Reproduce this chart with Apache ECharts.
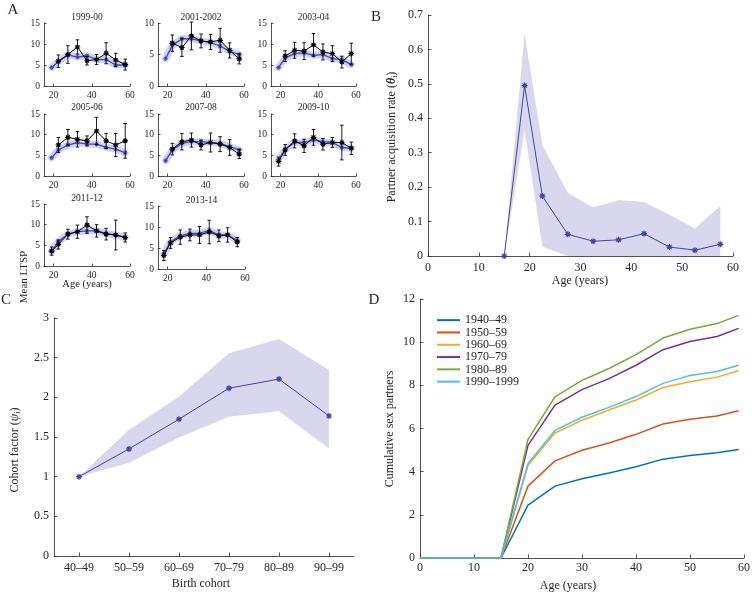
<!DOCTYPE html>
<html><head><meta charset="utf-8">
<script src="https://cdn.jsdelivr.net/npm/echarts@6/dist/echarts.min.js"></script>
<style>html,body{margin:0;padding:0;background:#fff}#c{width:753px;height:594px}</style>
</head><body><div id="c"></div><script>
const FONT = '"Liberation Serif", "Times New Roman", serif';
const INK = '#262626';

// ---------- Panel A data ----------
const ageA = [19, 22.5, 27.5, 32.5, 37.5, 42.5, 47.5, 52.5, 57.5];
const ageA2013 = [18, 21.5, 26.5, 31.5, 36.5, 41.5, 46.5, 51, 56];
const titlesA = ['1999-00', '2001-2002', '2003-04', '2005-06', '2007-08', '2009-10', '2011-12', '2013-14'];
const yMaxA = [15, 10, 15, 15, 15, 15, 15, 15];
const yTicksA = [0, 5, 10, 15];
const xTicksA = [20, 40, 60];

const model1999 = [4.4, 5.8, 7.4, 6.9, 7.2, 6.3, 6.3, 5.0, 5.0];
const obs1999   = [null, 5.9, 7.5, 9.3, 6.0, 6.3, 7.8, 6.2, 5.1];
const err1999   = [null, 1.5, 2.1, 1.7, 1.0, 1.2, 2.5, 1.6, 1.3];

const model2001 = [4.35, 6.45, 7.5, 7.5, 7.15, 6.9, 6.35, 5.5, 5.0];
const obs2001   = [null, 6.8, 6.1, 7.95, 7.15, 7.0, 7.25, 5.65, 4.3];
const err2001   = [null, 1.3, 1.4, 2.2, 1.1, 1.2, 1.9, 1.2, 0.8];

const model2003 = [4.4, 6.7, 7.7, 7.9, 7.3, 7.5, 6.5, 6.3, 5.1];
const obs2003   = [null, 7.1, 8.5, 8.3, 9.8, 8.1, 7.7, 5.7, 7.7];
const err2003   = [null, 1.3, 1.9, 2.0, 2.7, 1.9, 1.9, 1.4, 2.5];

const model2005 = [4.4, 6.3, 7.5, 8.1, 7.7, 7.7, 6.9, 6.5, 5.6];
const obs2005   = [null, 7.5, 9.35, 8.9, 8.5, 10.9, 8.5, 7.5, 8.5];
const err2005   = [null, 1.8, 1.9, 1.9, 1.2, 3.3, 1.8, 2.8, 4.2];

const model2007 = [3.7, 6.3, 7.9, 8.3, 8.3, 8.1, 7.9, 7.1, 6.3];
const obs2007   = [null, 6.5, 8.3, 8.7, 7.5, 8.1, 7.7, 6.9, 5.3];
const err2007   = [null, 1.4, 2.0, 1.7, 1.2, 2.3, 1.8, 1.9, 1.1];

const model2009 = [3.9, 6.5, 8.1, 8.1, 8.7, 8.3, 8.1, 6.9, 6.7];
const obs2009   = [3.5, 6.3, 8.5, 7.3, 9.35, 7.7, 8.1, 8.1, 6.7];
const err2009   = [1.1, 1.3, 1.7, 1.6, 1.9, 1.4, 1.2, 4.2, 1.5];

const model2011 = [3.6, 5.9, 7.7, 8.3, 8.5, 8.5, 7.9, 7.5, 6.9];
const obs2011   = [3.6, 5.2, 7.7, 8.3, 9.9, 8.5, 7.7, 7.5, 6.9];
const err2011   = [1.0, 1.1, 1.2, 1.6, 2.0, 1.5, 1.4, 3.6, 1.1];

const model2013 = [3.6, 6.5, 7.9, 8.5, 8.5, 9.2, 8.1, 8.1, 6.8];
const obs2013   = [3.2, 6.2, 7.6, 8.1, 8.1, 8.8, 7.9, 8.1, 6.4];
const err2013   = [1.2, 1.3, 1.7, 1.4, 2.0, 2.8, 1.4, 1.7, 1.1];

// ---------- Panel B data ----------
const ageB   = [15, 19, 22.5, 27.5, 32.5, 37.5, 42.5, 47.5, 52.5, 57.5];
const rateB  = [0, 0.495, 0.174, 0.063, 0.043, 0.047, 0.065, 0.026, 0.017, 0.034];
const upperB = [0, 0.645, 0.322, 0.184, 0.141, 0.163, 0.157, 0.120, 0.080, 0.145];
const lowerB = [0, 0.366, 0.027, 0, 0, 0, 0, 0, 0, 0];

// ---------- Panel C data ----------
const cohortsC = ['40–49', '50–59', '60–69', '70–79', '80–89', '90–99'];
const factorC  = [1, 1.35, 1.725, 2.115, 2.23, 1.765];
const upperC   = [1, 1.59, 2.01, 2.555, 2.735, 2.345];
const lowerC   = [1, 1.175, 1.495, 1.755, 1.825, 1.355];

// ---------- Panel D data ----------
const ageD = [0, 15, 20, 25, 30, 35, 40, 45, 50, 55, 59];
const namesD = ['1940–49', '1950–59', '1960–69', '1970–79', '1980–89', '1990–1999'];
const d1940 = [0, 0, 2.45, 3.33, 3.67, 3.94, 4.23, 4.58, 4.75, 4.88, 5.03];
const d1950 = [0, 0, 3.33, 4.50, 4.99, 5.33, 5.73, 6.21, 6.43, 6.58, 6.82];
const d1960 = [0, 0, 4.28, 5.79, 6.38, 6.86, 7.32, 7.90, 8.17, 8.38, 8.68];
const d1970 = [0, 0, 5.22, 7.08, 7.80, 8.31, 8.93, 9.65, 10.03, 10.26, 10.64];
const d1980 = [0, 0, 5.50, 7.47, 8.23, 8.78, 9.42, 10.19, 10.60, 10.86, 11.24];
const d1990 = [0, 0, 4.38, 5.91, 6.52, 6.98, 7.48, 8.09, 8.46, 8.64, 8.93];
const colorsD = ['#0072BD', '#D95319', '#EDB120', '#7E2F8E', '#77AC30', '#4DBEEE'];

// ---------- build ----------
const AST = 'path://M-1,-5L1,-5L1,5L-1,5Z M-5,-1L5,-1L5,1L-5,1Z M-2.8,-4.2L4.2,2.8L2.8,4.2L-4.2,-2.8Z M4.2,-2.8L-2.8,4.2L-4.2,2.8L2.8,-4.2Z';
const modelsA = [model1999, model2001, model2003, model2005, model2007, model2009, model2011, model2013];
const obsA = [obs1999, obs2001, obs2003, obs2005, obs2007, obs2009, obs2011, obs2013];
const errA = [err1999, err2001, err2003, err2005, err2007, err2009, err2011, err2013];
const agesA = [ageA, ageA, ageA, ageA, ageA, ageA, ageA, ageA2013];
const gridA = [
  {left: 44, top: 23, width: 86, height: 63},
  {left: 158, top: 23, width: 86, height: 63},
  {left: 271, top: 23, width: 85, height: 63},
  {left: 44, top: 114, width: 86, height: 62},
  {left: 158, top: 114, width: 86, height: 62},
  {left: 271, top: 114, width: 85, height: 62},
  {left: 44, top: 204, width: 86, height: 62},
  {left: 158, top: 206, width: 87, height: 63}
];
const titleY = [17, 17, 17, 107, 107, 107, 198, 200];

function ax(type, gi, fs, margin, tickLen, extra) {
  const o = {
    type: type, gridIndex: gi,
    axisLine: {show: true, onZero: false, lineStyle: {color: INK, width: 0.8}},
    axisTick: {show: true, inside: true, length: tickLen, lineStyle: {color: INK, width: 0.8}},
    axisLabel: {color: INK, fontFamily: FONT, fontSize: fs, margin: margin},
    splitLine: {show: false}
  };
  for (const k in extra) {
    if (typeof extra[k] === 'object' && !Array.isArray(extra[k]) && o[k]) Object.assign(o[k], extra[k]);
    else o[k] = extra[k];
  }
  return o;
}

const grids = [], xAxes = [], yAxes = [], series = [], graphics = [];

function errSeries(gi, xs, ys, es) {
  const data = [];
  xs.forEach((x, i) => { if (ys[i] != null) data.push([x, ys[i], es[i]]); });
  return {
    type: 'custom', xAxisIndex: gi, yAxisIndex: gi, z: 4, silent: true,
    encode: {x: 0, y: 1}, data: data,
    renderItem: (p, api) => {
      const x = api.value(0), y = api.value(1), e = api.value(2);
      const a = api.coord([x, y - e]), b = api.coord([x, y + e]);
      const w = 1.8, st = {stroke: '#000', lineWidth: 0.9};
      return {type: 'group', children: [
        {type: 'line', shape: {x1: a[0], y1: a[1], x2: b[0], y2: b[1]}, style: st},
        {type: 'line', shape: {x1: a[0] - w, y1: a[1], x2: a[0] + w, y2: a[1]}, style: st},
        {type: 'line', shape: {x1: b[0] - w, y1: b[1], x2: b[0] + w, y2: b[1]}, style: st}
      ]};
    }
  };
}

function bandSeries(gi, xs, lo, hi, color) {
  return {
    type: 'custom', xAxisIndex: gi, yAxisIndex: gi, z: 1, silent: true,
    encode: {x: 0, y: 1}, data: [[xs[0], lo[0]]],
    renderItem: (p, api) => {
      const pts = [];
      for (let i = 0; i < xs.length; i++) pts.push(api.coord([xs[i], hi[i]]));
      for (let i = xs.length - 1; i >= 0; i--) pts.push(api.coord([xs[i], lo[i]]));
      return {type: 'polygon', shape: {points: pts}, style: {fill: color}};
    }
  };
}

function txt(t, x, y, fs, rot, rich) {
  const g = {type: 'text', x: x, y: y, z: 100,
    style: {text: t, fontFamily: FONT, fontSize: fs, fill: INK, align: 'center', verticalAlign: 'middle'}};
  if (rot) g.rotation = rot;
  if (rich) g.style.rich = rich;
  graphics.push(g);
}

for (let i = 0; i < 8; i++) {
  grids.push(gridA[i]);
  xAxes.push(ax('value', i, 9.5, 4, 2.5, {min: 15, max: 60,
    axisLabel: {customValues: xTicksA}, axisTick: {customValues: xTicksA}}));
  yAxes.push(ax('value', i, 9.5, 4, 2.5, {min: 0, max: yMaxA[i], interval: 5}));
  const mdata = agesA[i].map((x, j) => [x, modelsA[i][j]]);
  const odata = [];
  agesA[i].forEach((x, j) => { if (obsA[i][j] != null) odata.push([x, obsA[i][j]]); });
  series.push({type: 'line', xAxisIndex: i, yAxisIndex: i, data: mdata, symbol: 'none', z: 1, silent: true,
    lineStyle: {color: 'rgba(95,105,215,0.30)', width: 7, cap: 'round', join: 'round'}});
  series.push({type: 'line', xAxisIndex: i, yAxisIndex: i, data: mdata, symbol: AST, symbolSize: 4.5, z: 2,
    lineStyle: {color: '#3f48b3', width: 1.3}, itemStyle: {color: '#3f48b3'}});
  series.push({type: 'line', xAxisIndex: i, yAxisIndex: i, data: odata, symbol: AST, symbolSize: 5.5, z: 5,
    lineStyle: {color: '#000', width: 1}, itemStyle: {color: '#000'}});
  series.push(errSeries(i, agesA[i], obsA[i], errA[i]));
  txt(titlesA[i], gridA[i].left + gridA[i].width / 2, titleY[i], 9.5);
}
txt('Mean LTSP', 24, 277, 11, Math.PI / 2);
txt('Age (years)', 87, 284, 10.5);

// Panel B (grid 8)
grids.push({left: 428, top: 15, width: 305, height: 241});
xAxes.push(ax('value', 8, 12, 6, 3.5, {min: 0, max: 60, interval: 10}));
yAxes.push(ax('value', 8, 12, 5, 3.5, {min: 0, max: 0.7, interval: 0.1}));
series.push(bandSeries(8, ageB, lowerB, upperB, '#d9d7ee'));
series.push({type: 'line', xAxisIndex: 8, yAxisIndex: 8, z: 3, data: ageB.map((x, j) => [x, rateB[j]]),
  symbol: AST, symbolSize: 6, lineStyle: {color: '#3f45a3', width: 1}, itemStyle: {color: '#3f45a3'}});
txt('Age (years)', 580, 281, 12);
txt('Partner acquisition rate ({it|θ}{sub|i})', 392, 137, 12, Math.PI / 2,
  {it: {fontStyle: 'italic', fontWeight: 'bold', fontFamily: FONT, fontSize: 12, fill: INK},
   sub: {fontFamily: FONT, fontSize: 8, fill: INK, verticalAlign: 'bottom', padding: [6, 0, 0, 0]}});

// Panel C (grid 9)
grids.push({left: 54, top: 318, width: 300, height: 238});
xAxes.push(ax('category', 9, 12, 6, 3.5, {data: cohortsC, boundaryGap: true,
  axisTick: {alignWithLabel: true}}));
yAxes.push(ax('value', 9, 12, 5, 3.5, {min: 0, max: 3, interval: 0.5}));
const idxC = cohortsC.map((c, j) => j);
series.push(bandSeries(9, idxC, lowerC, upperC, '#d9d7ee'));
series.push({type: 'line', xAxisIndex: 9, yAxisIndex: 9, z: 3, data: factorC,
  symbol: AST, symbolSize: 6, lineStyle: {color: '#3f45a3', width: 1}, itemStyle: {color: '#3f45a3'}});
txt('Birth cohort', 201, 584, 12);
txt('Cohort factor ({it|ψ}{sub|i})', 15, 450, 12, Math.PI / 2,
  {it: {fontStyle: 'italic', fontFamily: FONT, fontSize: 12, fill: INK},
   sub: {fontFamily: FONT, fontSize: 8, fill: INK, verticalAlign: 'bottom', padding: [6, 0, 0, 0]}});

// Panel D (grid 10)
grids.push({left: 420, top: 299, width: 327, height: 259});
xAxes.push(ax('value', 10, 12, 4, 3.5, {min: 0, max: 60, interval: 10}));
yAxes.push(ax('value', 10, 12, 5, 3.5, {min: 0, max: 12, interval: 2}));
const seriesD = [d1940, d1950, d1960, d1970, d1980, d1990];
seriesD.forEach((vals, k) => {
  series.push({type: 'line', name: namesD[k], xAxisIndex: 10, yAxisIndex: 10, z: 3,
    data: ageD.map((x, j) => [x, vals[j]]), symbol: 'none',
    lineStyle: {color: colorsD[k], width: 1.5}, itemStyle: {color: colorsD[k]}});
});
txt('Age (years)', 568, 586, 12);
txt('Cumulative sex partners', 390, 429, 12, Math.PI / 2);

// Panel letters
txt('A', 13, 10, 15);
txt('B', 376, 17, 15);
txt('C', 6, 300, 15);
txt('D', 374, 300, 15);

const chart = echarts.init(document.getElementById('c'), null, {renderer: 'canvas'});
chart.setOption({
  animation: false,
  backgroundColor: '#fff',
  grid: grids,
  xAxis: xAxes,
  yAxis: yAxes,
  legend: {data: namesD, orient: 'vertical', left: 432, top: 309, itemWidth: 23, itemHeight: 2,
    itemGap: 0, icon: 'rect', selectedMode: false,
    textStyle: {fontFamily: FONT, fontSize: 12, color: INK, lineHeight: 12.3}},
  series: series,
  graphic: graphics
});
</script></body></html>
